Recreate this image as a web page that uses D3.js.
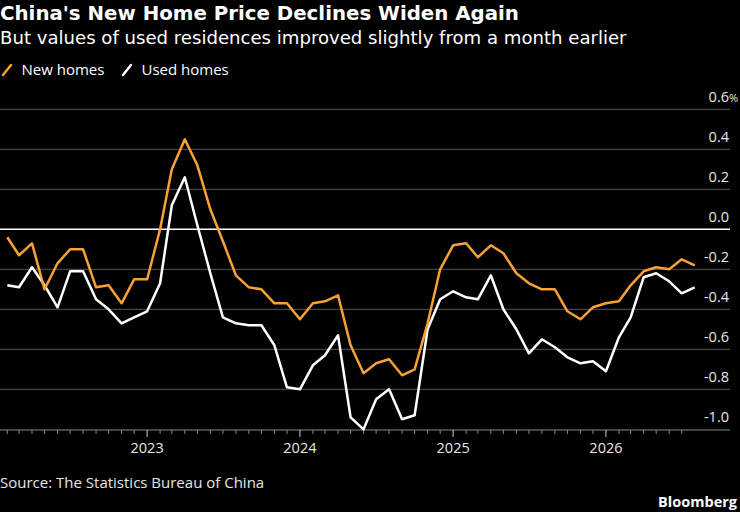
<!DOCTYPE html>
<html>
<head>
<meta charset="utf-8">
<script src="https://cdn.jsdelivr.net/npm/d3@7"></script>
<style>
  body { margin: 0; background: #000; }
  svg { display: block; }
  text { fill: #fff; }
</style>
</head>
<body>
<div id="chart"></div>
<script>
// month of each point, as labelled on the chart's time axis
var months = [
  "2022-02", "2022-03", "2022-04", "2022-05", "2022-06", "2022-07", "2022-08", "2022-09", "2022-10", "2022-11", "2022-12",
  "2023-01", "2023-02", "2023-03", "2023-04", "2023-05", "2023-06", "2023-07", "2023-08", "2023-09", "2023-10", "2023-11", "2023-12",
  "2024-01", "2024-02", "2024-03", "2024-04", "2024-05", "2024-06", "2024-07", "2024-08", "2024-09", "2024-10", "2024-11", "2024-12",
  "2025-01", "2025-02", "2025-03", "2025-04", "2025-05", "2025-06", "2025-07", "2025-08", "2025-09", "2025-10", "2025-11", "2025-12",
  "2026-01", "2026-02", "2026-03", "2026-04", "2026-05", "2026-06", "2026-07", "2026-08"
];

// month-on-month change, %
var newHomes = [
  -0.04, -0.13, -0.07, -0.30, -0.17, -0.10, -0.10, -0.29, -0.28, -0.37, -0.25,
  -0.25, 0.00, 0.30, 0.45, 0.32, 0.10, -0.06, -0.23, -0.29, -0.30, -0.37, -0.37,
  -0.45, -0.37, -0.36, -0.33, -0.58, -0.72, -0.67, -0.65, -0.73, -0.70, -0.47, -0.20,
  -0.08, -0.07, -0.14, -0.08, -0.12, -0.22, -0.27, -0.30, -0.30, -0.41, -0.45, -0.39,
  -0.37, -0.36, -0.28, -0.21, -0.19, -0.20, -0.15, -0.18
];

var usedHomes = [
  -0.28, -0.29, -0.19, -0.28, -0.39, -0.21, -0.21, -0.35, -0.40, -0.47, -0.44,
  -0.41, -0.27, 0.12, 0.26, 0.02, -0.22, -0.44, -0.47, -0.48, -0.48, -0.58, -0.79,
  -0.80, -0.68, -0.63, -0.53, -0.94, -1.00, -0.85, -0.80, -0.95, -0.93, -0.50, -0.35,
  -0.31, -0.34, -0.35, -0.23, -0.40, -0.50, -0.62, -0.55, -0.59, -0.64, -0.67, -0.66,
  -0.71, -0.54, -0.44, -0.24, -0.22, -0.26, -0.32, -0.29
];

var yTicks = [0.6, 0.4, 0.2, 0.0, -0.2, -0.4, -0.6, -0.8, -1.0];
var yearTicks = ["2023", "2024", "2025", "2026"];

var series = [
  { name: "New homes", values: newHomes, color: "#f7a136" },
  { name: "Used homes", values: usedHomes, color: "#ffffff" }
];

var width = 740, height = 512;
var titleFont = "'DejaVu Sans', sans-serif";
var font = "'Open Sans', sans-serif";

var svg = d3.select("#chart").append("svg")
    .attr("width", width)
    .attr("height", height);

var parse = d3.timeParse("%Y-%m");
var dates = months.map(parse);

var x = d3.scaleTime()
    .domain([dates[0], dates[dates.length - 1]])
    .range([7.3, 694.7]);

var y = d3.scaleLinear()
    .domain([-1, 0.6])
    .range([429.3, 109.3]);

var plotRight = 730;

// titles
svg.append("text")
    .attr("x", 0).attr("y", 20)
    .style("font-family", titleFont)
    .style("font-weight", "bold")
    .style("font-size", "19.8px")
    .text("China's New Home Price Declines Widen Again");

svg.append("text")
    .attr("x", 0).attr("y", 44)
    .style("font-family", titleFont)
    .style("font-size", "18.1px")
    .text("But values of used residences improved slightly from a month earlier");

// legend
var legend = svg.append("g").attr("class", "legend");
var legendX = [2, 122];
series.forEach(function(s, i) {
    var g = legend.append("g").attr("transform", "translate(" + legendX[i] + ",0)");
    g.append("line")
        .attr("x1", 1).attr("y1", 75)
        .attr("x2", 9).attr("y2", 65)
        .attr("stroke", s.color)
        .attr("stroke-width", 2.5)
        .attr("stroke-linecap", "round");
    g.append("text")
        .attr("x", 19.5).attr("y", 75)
        .style("font-family", font)
        .style("font-size", "15px")
        .text(s.name);
});

// grid
svg.append("g").selectAll("line")
    .data(yTicks.filter(function(d) { return d > -1; }))
    .enter().append("line")
    .attr("x1", 0).attr("x2", plotRight)
    .attr("y1", function(d) { return y(d); })
    .attr("y2", function(d) { return y(d); })
    .attr("stroke", function(d) { return d === 0 ? "#ffffff" : "#555555"; })
    .attr("stroke-width", function(d) { return d === 0 ? 1.5 : 1; });

// y labels sit above their grid line
var fmt = d3.format(".1f");
svg.append("g").selectAll("text")
    .data(yTicks)
    .enter().append("text")
    .attr("x", 729)
    .attr("y", function(d) { return y(d) - 7; })
    .attr("text-anchor", "end")
    .style("font-family", font)
    .style("font-size", "14.5px")
    .style("fill", "#e6e6e6")
    .text(function(d) { return fmt(d).replace("−", "-"); });

svg.append("text")
    .attr("x", 729).attr("y", y(0.6) - 7)
    .style("font-family", font)
    .style("font-size", "11px")
    .style("fill", "#e6e6e6")
    .text("%");

// x axis
var xAxis = svg.append("g").attr("class", "x-axis");
xAxis.append("line")
    .attr("x1", 0).attr("x2", plotRight)
    .attr("y1", 430).attr("y2", 430)
    .attr("stroke", "#888888");

var yearDates = yearTicks.map(function(d) { return d3.timeParse("%Y")(d); });
xAxis.selectAll(".minor")
    .data(dates.slice(0, -1))
    .enter().append("line")
    .attr("class", "minor")
    .attr("x1", function(d) { return x(d); })
    .attr("x2", function(d) { return x(d); })
    .attr("y1", 430)
    .attr("y2", function(d) { return d.getMonth() === 0 ? 437 : 434; })
    .attr("stroke", function(d) { return d.getMonth() === 0 ? "#cccccc" : "#888888"; });

xAxis.selectAll(".year")
    .data(yearDates)
    .enter().append("text")
    .attr("class", "year")
    .attr("x", function(d) { return x(d); })
    .attr("y", 453)
    .attr("text-anchor", "middle")
    .style("font-family", font)
    .style("font-size", "14.5px")
    .style("fill", "#e6e6e6")
    .text(function(d, i) { return yearTicks[i]; });

// lines, used homes below new homes
var line = d3.line()
    .x(function(d, i) { return x(dates[i]); })
    .y(function(d) { return y(d); });

svg.append("g").selectAll("path")
    .data(series.slice().reverse())
    .enter().append("path")
    .attr("d", function(s) { return line(s.values); })
    .attr("fill", "none")
    .attr("stroke", function(s) { return s.color; })
    .attr("stroke-width", 2.5)
    .attr("stroke-linejoin", "round");

// footer
svg.append("text")
    .attr("x", 0).attr("y", 488)
    .style("font-family", font)
    .style("font-size", "15px")
    .style("fill", "#e6e6e6")
    .text("Source: The Statistics Bureau of China");

svg.append("text")
    .attr("x", 737).attr("y", 506.5)
    .attr("text-anchor", "end")
    .style("font-family", font)
    .style("font-weight", "bold")
    .style("font-size", "14.5px")
    .text("Bloomberg");
</script>
</body>
</html>
